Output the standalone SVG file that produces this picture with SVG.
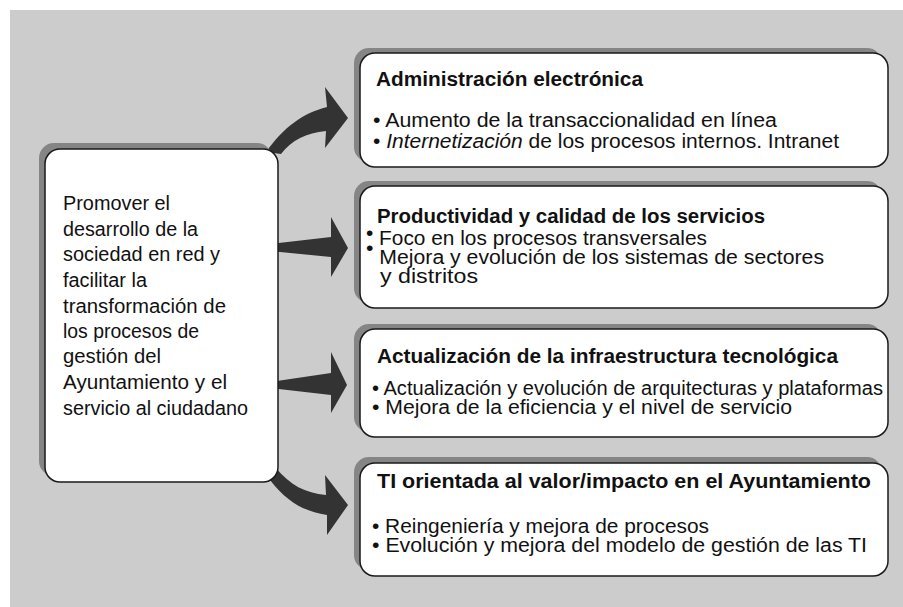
<svg xmlns="http://www.w3.org/2000/svg" width="903" height="607" viewBox="0 0 903 607">
<style>
.bg{fill:#cccccc}
.sh{fill:#858585}
.bx{fill:#ffffff;stroke:#1a1a1a;stroke-width:1.5}
.ar{fill:#333333}
text{font-family:"Liberation Sans","DejaVu Sans",sans-serif;font-size:20px;fill:#111111}
.t{font-weight:bold}
</style>
<rect class="bg" x="10" y="10" width="893" height="597"/>
<g id="connectors">
<path class="ar" d="M266,152 C284,127 303,113 327,107 L325,87 L348,118 L325,148 L326,131 C306,133 292,140 281,154 Z"/>
<path class="ar" d="M270,244 L331,237 L331,217 L348,248 L331,277 L331,257 L270,251 Z"/>
<path class="ar" d="M270,382 L331,373 L331,352 L347,385 L331,413 L331,395 L270,388 Z"/>
<path class="ar" d="M276,468 C290,485 305,493 326,495 L325,475 L348,505 L327,535 L327,515 C304,511 288,503 270,480 Z"/>
</g>
<g id="main">
<rect class="sh" x="39" y="143" width="233" height="333" rx="15"/>
<rect class="bx" x="45" y="149" width="233" height="333" rx="15"/>
<text x="63" y="210" textLength="107" lengthAdjust="spacingAndGlyphs">Promover el</text>
<text x="63" y="236" textLength="135" lengthAdjust="spacingAndGlyphs">desarrollo de la</text>
<text x="63" y="261" textLength="157" lengthAdjust="spacingAndGlyphs">sociedad en red y</text>
<text x="63" y="287" textLength="84" lengthAdjust="spacingAndGlyphs">facilitar la</text>
<text x="63" y="313" textLength="163" lengthAdjust="spacingAndGlyphs">transformación de</text>
<text x="63" y="338" textLength="136" lengthAdjust="spacingAndGlyphs">los procesos de</text>
<text x="63" y="363" textLength="98" lengthAdjust="spacingAndGlyphs">gestión del</text>
<text x="63" y="389" textLength="164" lengthAdjust="spacingAndGlyphs">Ayuntamiento y el</text>
<text x="63" y="415" textLength="185" lengthAdjust="spacingAndGlyphs">servicio al ciudadano</text>
</g>
<g id="box1">
<rect class="sh" x="354" y="48" width="528" height="114" rx="15"/>
<rect class="bx" x="360" y="53" width="528" height="114" rx="15"/>
<text class="t" x="376" y="86" textLength="267" lengthAdjust="spacingAndGlyphs">Administración electrónica</text>
<text x="373" y="127" textLength="404" lengthAdjust="spacingAndGlyphs">• Aumento de la transaccionalidad en línea</text>
<text x="373" y="148" textLength="466" lengthAdjust="spacingAndGlyphs">• <tspan font-style="italic">Internetización</tspan> de los procesos internos. Intranet</text>
</g>
<g id="box2">
<rect class="sh" x="354" y="181" width="528" height="122" rx="15"/>
<rect class="bx" x="360" y="186" width="528" height="122" rx="15"/>
<text class="t" x="377" y="223" textLength="388" lengthAdjust="spacingAndGlyphs">Productividad y calidad de los servicios</text>
<text x="366" y="245" textLength="341" lengthAdjust="spacingAndGlyphs"><tspan dy="-5">•</tspan><tspan dy="5"> Foco en los procesos transversales</tspan></text>
<text x="366" y="264" textLength="458" lengthAdjust="spacingAndGlyphs"><tspan dy="-9">•</tspan><tspan dy="9"> Mejora y evolución de los sistemas de sectores</tspan></text>
<text x="380" y="283" textLength="98" lengthAdjust="spacingAndGlyphs">y distritos</text>
</g>
<g id="box3">
<rect class="sh" x="354" y="324" width="528" height="108" rx="15"/>
<rect class="bx" x="360" y="329" width="528" height="108" rx="15"/>
<text class="t" x="377" y="363" textLength="461" lengthAdjust="spacingAndGlyphs">Actualización de la infraestructura tecnológica</text>
<text x="372" y="395" textLength="511" lengthAdjust="spacingAndGlyphs">• Actualización y evolución de arquitecturas y plataformas</text>
<text x="372" y="414" textLength="420" lengthAdjust="spacingAndGlyphs">• Mejora de la eficiencia y el nivel de servicio</text>
</g>
<g id="box4">
<rect class="sh" x="354" y="457" width="528" height="113" rx="15"/>
<rect class="bx" x="360" y="463" width="528" height="113" rx="15"/>
<text class="t" x="377" y="488" textLength="494" lengthAdjust="spacingAndGlyphs">TI orientada al valor/impacto en el Ayuntamiento</text>
<text x="372" y="533" textLength="337" lengthAdjust="spacingAndGlyphs">• Reingeniería y mejora de procesos</text>
<text x="372" y="552" textLength="495" lengthAdjust="spacingAndGlyphs">• Evolución y mejora del modelo de gestión de las TI</text>
</g>
</svg>
